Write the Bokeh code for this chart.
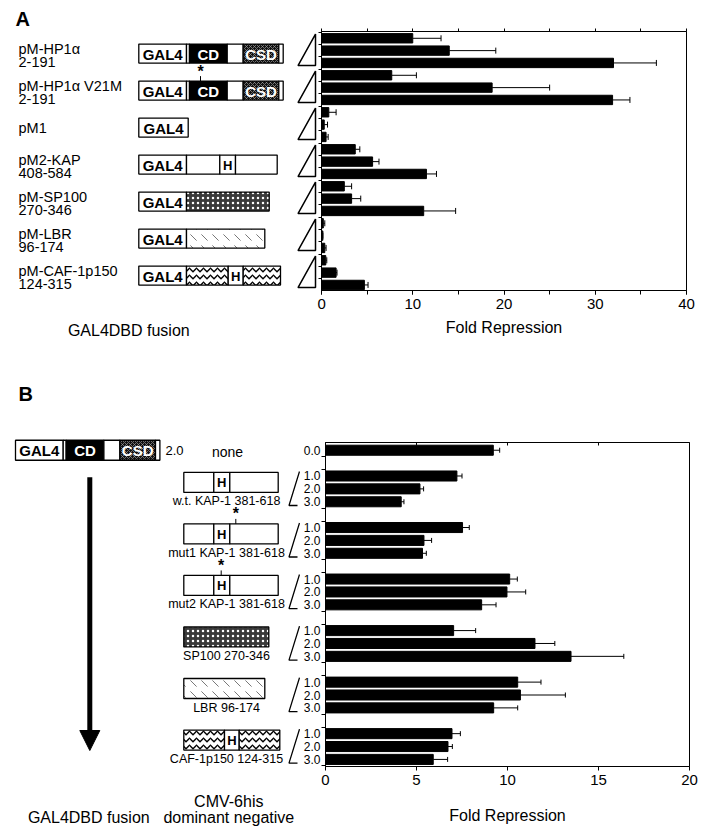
from bokeh.plotting import figure
from bokeh.layouts import column, row
from bokeh.models import (Range1d, FixedTicker, SingleIntervalTicker, LinearAxis,
                          Whisker, TeeHead, ColumnDataSource, Arrow, NormalHead)
from bokeh.core.properties import value
from bokeh.embed import file_html
from bokeh.resources import INLINE

FONT = "Liberation Sans"

# ---------------- data ----------------
a_name = ["pM-HP1α", "pM-HP1α V21M", "pM1", "pM2-KAP", "pM-SP100", "pM-LBR", "pM-CAF-1p150"]
a_range = ["2-191", "2-191", "", "408-584", "270-346", "96-174", "124-315"]
a_fold = [10.0, 14.0, 32.0, 7.7, 18.7, 31.9, 0.8, 0.3, 0.5, 3.7, 5.6, 11.5,
          2.5, 3.3, 11.2, 0.2, 0.15, 0.36, 0.47, 1.6, 4.7]
a_err_top = [13.1, 19.1, 36.7, 10.4, 25.0, 33.8, 1.6, 0.66, 0.73, 4.2, 6.3, 12.6,
             3.3, 4.3, 14.7, 0.36, 0.15, 0.5, 0.58, 1.7, 5.1]
a_xticks = [0, 10, 20, 30, 40]

b_name = ["none", "w.t. KAP-1 381-618", "mut1 KAP-1 381-618", "mut2 KAP-1 381-618",
          "SP100 270-346", "LBR 96-174", "CAF-1p150 124-315"]
b_dose_none = "0.0"
b_doses = ["1.0", "2.0", "3.0"]
b_gal4_amount = "2.0"
b_fold = [9.22, 7.22, 5.19, 4.16, 7.53, 5.41, 5.33, 10.12, 9.97, 8.58,
          7.04, 11.51, 13.49, 10.56, 10.71, 9.24, 6.95, 6.73, 5.92]
b_err_top = [9.57, 7.5, 5.39, 4.31, 7.9, 5.83, 5.54, 10.54, 11.0, 9.37,
             8.25, 12.6, 16.39, 11.84, 13.18, 10.56, 7.41, 6.97, 6.71]
b_xticks = [0, 5, 10, 15, 20]

# ---------------- layout constants (page pixels) ----------------
A_ROW_TOP, A_ROW_H, A_LEFT_W = 0, 358, 317
A_FT, A_FH, A_FW = 31, 259, 365
A_Y0, A_Y1 = -0.55, 20.45

B_ROW_TOP, B_ROW_H, B_LEFT_W = 358, 471, 300
B_FT, B_FH, B_FW = 84, 324, 364
B_Y0, B_Y1 = -0.6, 24.55


def a_ref(s):
    return A_ROW_TOP + A_FT + (s - A_Y0) * A_FH / (A_Y1 - A_Y0)


def b_ref(s):
    return B_ROW_TOP + B_FT + (s - B_Y0) * B_FH / (B_Y1 - B_Y0)


def blank_fig(x0, w, y0, h):
    f = figure(width=w, height=h, x_range=Range1d(x0, x0 + w), y_range=Range1d(y0 + h, y0),
               x_axis_type=None, y_axis_type=None, min_border=0, frame_align=False,
               output_backend="svg", toolbar_location=None)
    f.grid.visible = False
    f.outline_line_color = None
    return f


def seg(f, x0, x1, yc, h, fill="white", hatch=None, hcolor="black", hscale=6, hweight=1, lw=1.3):
    kw = dict(left=[x0], right=[x1], top=[yc - h / 2], bottom=[yc + h / 2],
              fill_color=fill, line_color="black", line_width=lw)
    if hatch:
        kw.update(hatch_pattern=hatch, hatch_color=hcolor, hatch_scale=hscale, hatch_weight=hweight)
    f.quad(**kw)


def txt(f, x, y, s, size, bold=False, color="black", align="left"):
    f.text(x=[x], y=[y], text=[s], text_font=value(FONT), text_font_size=f"{size}px",
           text_font_style="bold" if bold else "normal", text_color=color,
           text_align=align, text_baseline="middle")


def gal4(f, x0, x1, yc, h):
    seg(f, x0, x1, yc, h)
    txt(f, (x0 + x1) / 2, yc + 0.5, "GAL4", 15, bold=True, align="center")


def hp1(f, x0, yc, h):
    # GAL4 | CD | spacer | CSD
    gal4(f, x0, x0 + 47.7, yc, h)
    seg(f, x0 + 47.7, x0 + 50.7, yc, h)
    seg(f, x0 + 50.7, x0 + 88.4, yc, h, fill="black")
    txt(f, x0 + 69.5, yc + 0.5, "CD", 15, bold=True, color="white", align="center")
    seg(f, x0 + 88.4, x0 + 104.4, yc, h)
    seg(f, x0 + 104.4, x0 + 140, yc, h, fill="#111111", hatch="x",
        hcolor="#9a9a9a", hscale=4, hweight=0.7)
    txt(f, x0 + 122.2, yc + 0.5, "CSD", 15, bold=True, color="white", align="center")
    seg(f, x0 + 140, x0 + 144.4, yc, h)


def hbox(f, x0, x1, yc, h, size=13):
    seg(f, x0, x1, yc, h)
    txt(f, (x0 + x1) / 2, yc + 0.5, "H", size, bold=True, align="center")


def sp100(f, x0, x1, yc, h):
    seg(f, x0, x1, yc, h, fill="#3a3a3a", hatch=".", hcolor="white", hscale=5, hweight=1.5)


def lbr(f, x0, x1, yc, h):
    seg(f, x0, x1, yc, h, fill="white", hatch="`", hcolor="#555555", hscale=11, hweight=0.8)


def wave(f, x0, x1, yc, h):
    seg(f, x0, x1, yc, h, fill="white", hatch="v", hcolor="black", hscale=7, hweight=1.3)


def star(f, x, y_top_box, gap=10):
    txt(f, x, y_top_box - gap, "*", 16, bold=True, align="center")
    f.line(x=[x, x], y=[y_top_box - 5, y_top_box], line_color="black", line_width=1)


def style_xaxis(ax, label_standoff, axis_label_standoff):
    ax.axis_line_color = "black"
    ax.major_tick_line_color = "black"
    ax.minor_tick_line_color = "black"
    ax.major_tick_in = 0
    ax.major_tick_out = 4
    ax.minor_tick_in = 0
    ax.minor_tick_out = 4
    ax.major_label_text_font = FONT
    ax.major_label_text_font_size = "15px"
    ax.major_label_text_color = "black"
    ax.major_label_standoff = label_standoff
    ax.axis_label_text_font = FONT
    ax.axis_label_text_font_size = "16px"
    ax.axis_label_text_font_style = "normal"
    ax.axis_label_text_color = "black"
    ax.axis_label_standoff = axis_label_standoff


# ================= Panel A =================
n_a = len(a_name)
a_y = list(range(len(a_fold)))
src_a = ColumnDataSource(dict(y=a_y, x=a_fold, err=a_err_top))

pa = figure(frame_width=A_FW, frame_height=A_FH, min_border_left=4, min_border_right=13,
            min_border_top=A_FT, min_border_bottom=A_ROW_H - A_FT - A_FH, frame_align=False,
            x_range=Range1d(a_xticks[0], a_xticks[-1]), y_range=Range1d(A_Y1, A_Y0),
            x_axis_label="Fold Repression", output_backend="svg", toolbar_location=None)
pa.grid.visible = False
pa.outline_line_color = "black"
pa.outline_line_width = 1
pa.hbar(y="y", right="x", left=0, height=0.76, fill_color="black", line_color="black", source=src_a)
pa.add_layout(Whisker(source=src_a, base="y", lower="x", upper="err", dimension="width",
                      line_color="black", line_width=1,
                      upper_head=TeeHead(size=6, line_color="black", line_width=1), lower_head=None))
xa = pa.xaxis[0]
xa.ticker = SingleIntervalTicker(interval=10, num_minor_ticks=2)
style_xaxis(xa, 4, 7)
ya = pa.yaxis[0]
ya.ticker = FixedTicker(ticks=[], minor_ticks=[k - 0.5 for k in range(len(a_fold) + 1)])
ya.major_label_standoff = 0
ya.major_tick_out = 0
ya.major_tick_in = 0
ya.minor_tick_out = 3
ya.minor_tick_in = 0
ya.axis_line_color = "black"
ya.minor_tick_line_color = "black"
top_a = LinearAxis(ticker=FixedTicker(ticks=[], minor_ticks=list(range(a_xticks[0], a_xticks[-1] + 1, 5))),
                   major_label_standoff=0,
                   major_tick_out=0, major_tick_in=0, minor_tick_out=3, minor_tick_in=0,
                   axis_line_color="black", minor_tick_line_color="black")
pa.add_layout(top_a, "above")

la = blank_fig(0, A_LEFT_W, A_ROW_TOP, A_ROW_H)
txt(la, 15, 18, "A", 20, bold=True)
BOX_H = 19
for g in range(n_a):
    yc = a_ref(3 * g + 1)
    by = yc + 3
    if a_range[g]:
        txt(la, 18, yc - 1.5, a_name[g], 14.5)
        txt(la, 18, yc + 11.5, a_range[g], 14.5)
    else:
        txt(la, 18, yc + 3.5, a_name[g], 14.5)
    # triangle (increasing amount)
    la.patch(x=[297.5, 315, 315], y=[yc + 15, yc + 15, yc - 16.5], fill_color="white",
             line_color="black", line_width=1.5)
    x0 = 138.3
    if g in (0, 1):
        hp1(la, x0, by, BOX_H)
        if g == 1:
            star(la, 200, by - BOX_H / 2)
    elif g == 2:
        gal4(la, x0, 187.7, by, BOX_H)
    elif g == 3:
        gal4(la, x0, 186, by, BOX_H)
        seg(la, 186, 219.3, by, BOX_H)
        hbox(la, 219.3, 235, by, BOX_H)
        seg(la, 235, 276.7, by, BOX_H)
    elif g == 4:
        gal4(la, x0, 186, by, BOX_H)
        sp100(la, 186, 268.7, by, BOX_H)
    elif g == 5:
        gal4(la, x0, 186, by, BOX_H)
        lbr(la, 186, 264.3, by, BOX_H)
    elif g == 6:
        gal4(la, x0, 186, by, BOX_H)
        wave(la, 186, 227.7, by, BOX_H)
        hbox(la, 227.7, 242.7, by, BOX_H)
        wave(la, 242.7, 280, by, BOX_H)
txt(la, 128.3, 330, "GAL4DBD fusion", 16, align="center")

# ================= Panel B =================
b_slots = [0] + [4 * g + k for g in range(1, len(b_name)) for k in (-2, -1, 0)]
b_labels = [b_dose_none] + b_doses * (len(b_name) - 1)
src_b = ColumnDataSource(dict(y=b_slots, x=b_fold, err=b_err_top))

pb = figure(frame_width=B_FW, frame_height=B_FH, min_border_left=21, min_border_right=10,
            min_border_top=B_FT, min_border_bottom=B_ROW_H - B_FT - B_FH, frame_align=False,
            x_range=Range1d(b_xticks[0], b_xticks[-1]), y_range=Range1d(B_Y1, B_Y0),
            x_axis_label="Fold Repression", output_backend="svg", toolbar_location=None)
pb.grid.visible = False
pb.outline_line_color = "black"
pb.outline_line_width = 1
pb.hbar(y="y", right="x", left=0, height=0.78, fill_color="black", line_color="black", source=src_b)
pb.add_layout(Whisker(source=src_b, base="y", lower="x", upper="err", dimension="width",
                      line_color="black", line_width=1,
                      upper_head=TeeHead(size=5, line_color="black", line_width=1), lower_head=None))
xb = pb.xaxis[0]
xb.ticker = FixedTicker(ticks=b_xticks)
style_xaxis(xb, 4, 19)
yb = pb.yaxis[0]
minor_b = [0.5, 1.5] + [v for g in range(1, len(b_name) - 1) for v in (4 * g + 0.5, 4 * g + 1.5)] + [b_slots[-1] + 0.5]
yb.ticker = FixedTicker(ticks=b_slots, minor_ticks=minor_b)
yb.major_label_overrides = {s: l for s, l in zip(b_slots, b_labels)}
yb.major_label_text_font = FONT
yb.major_label_text_font_size = "12px"
yb.major_label_text_color = "black"
yb.major_label_standoff = 1
yb.major_tick_out = 0
yb.major_tick_in = 0
yb.minor_tick_out = 4
yb.minor_tick_in = 0
yb.axis_line_color = "black"
yb.minor_tick_line_color = "black"
top_b = LinearAxis(ticker=FixedTicker(ticks=[], minor_ticks=b_xticks[1:-1]),
                   major_label_standoff=0,
                   major_tick_out=0, major_tick_in=0, minor_tick_out=0, minor_tick_in=3,
                   axis_line_color="black", minor_tick_line_color="black")
pb.add_layout(top_b, "above")

lb = blank_fig(0, B_LEFT_W, B_ROW_TOP, B_ROW_H)
txt(lb, 18, 393, "B", 20, bold=True)
# GAL4-HP1 construct used in all B samples
y_top = b_ref(0)
hp1(lb, 15, y_top, 20)
txt(lb, 165, y_top, b_gal4_amount, 13)
txt(lb, 227, y_top + 1.5, b_name[0], 14, align="center")
lb.add_layout(Arrow(end=NormalHead(size=20, fill_color="black", line_color="black"),
                    x_start=89.3, y_start=476.7, x_end=89.3, y_end=750,
                    line_color="black", line_width=5))
BH = 20
for g in range(1, len(b_name)):
    yc = b_ref(4 * g - 1)
    by = yc - 6.5
    txt(lb, 226, yc + 12.5, b_name[g], 12.5, align="center")
    lb.line(x=[299, 288.5, 297], y=[yc - 17.4, yc + 16.6, yc + 16.6],
            line_color="black", line_width=1.3)
    if g in (1, 2, 3):
        seg(lb, 183.3, 213.3, by, BH)
        hbox(lb, 213.3, 229.3, by, BH)
        seg(lb, 229.3, 277.7, by, BH)
        if g == 2:
            star(lb, 235.3, by - BH / 2)
        if g == 3:
            star(lb, 220.7, by - BH / 2)
    elif g == 4:
        sp100(lb, 183.3, 268.3, by, BH)
    elif g == 5:
        lbr(lb, 183.3, 264.3, by, BH)
    elif g == 6:
        wave(lb, 183.3, 224, by, BH)
        hbox(lb, 224, 238.7, by, BH)
        wave(lb, 238.7, 279.3, by, BH)

txt(lb, 88.3, 816.7, "GAL4DBD fusion", 16, align="center")
txt(lb, 228.3, 800.7, "CMV-6his", 16, align="center")
txt(lb, 228.3, 816.7, "dominant negative", 16, align="center")

layout = column(row(la, pa), row(lb, pb))
open("out.html", "w").write(file_html(layout, INLINE))
